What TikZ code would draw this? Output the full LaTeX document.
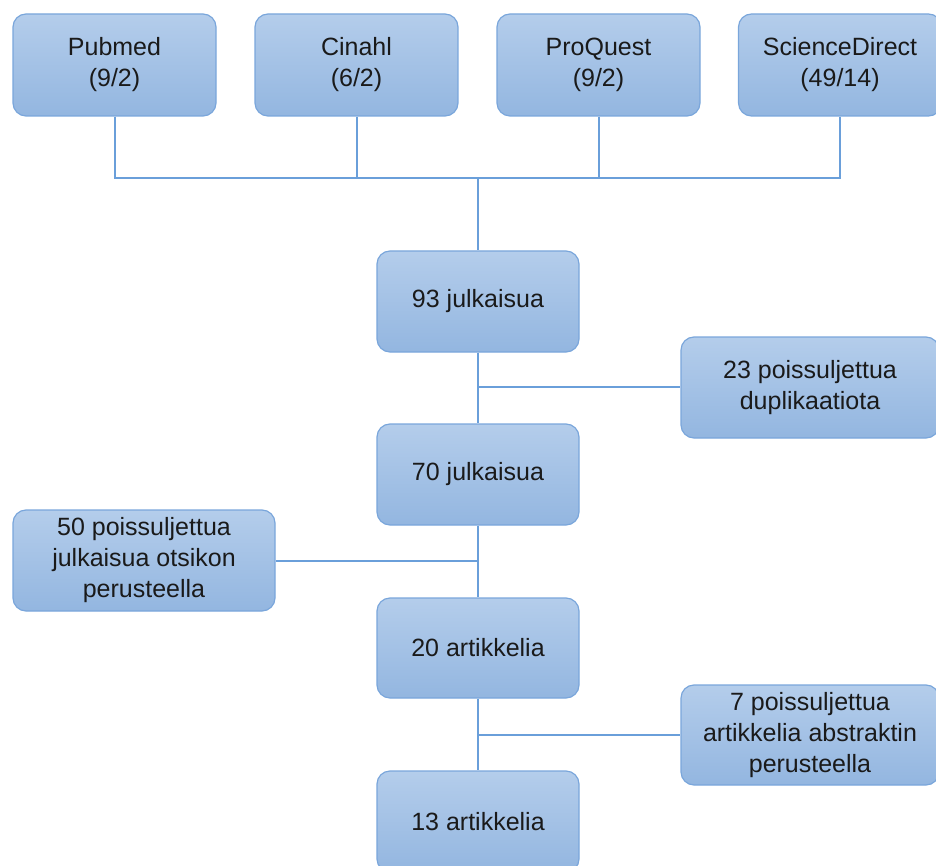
\documentclass[tikz,border=0pt]{standalone}
\usepackage{fontspec}
\setmainfont{Liberation Sans}
\definecolor{boxtop}{HTML}{B4CDEB}
\definecolor{boxbot}{HTML}{93B6E0}
\definecolor{boxline}{HTML}{7AA6DB}
\definecolor{conn}{HTML}{6A9FDA}
\definecolor{txt}{HTML}{1A1A1A}
\begin{document}
\begin{tikzpicture}[x=1pt,y=-1pt,
  box/.style={draw=boxline,line width=1.2pt,rounded corners=13pt,
    top color=boxtop,bottom color=boxbot,align=center,text=txt,
    font=\fontsize{25}{31}\selectfont,inner sep=0pt},
  link/.style={draw=conn,line width=2pt}]
\useasboundingbox (0,0) rectangle (936,866);
\coordinate (bus) at (478,178);
\coordinate (j1) at (478,387);
\coordinate (j2) at (478,561);
\coordinate (j3) at (478,735);
\begin{scope}
\clip (0,0) rectangle (936,866);
\node[box,minimum width=203pt,minimum height=102pt] (pub) at (114.5,65) {Pubmed\\(9/2)};
\node[box,minimum width=203pt,minimum height=102pt] (cin) at (356.5,65) {Cinahl\\(6/2)};
\node[box,minimum width=203pt,minimum height=102pt] (pro) at (598.5,65) {ProQuest\\(9/2)};
\node[box,minimum width=203pt,minimum height=102pt] (sci) at (840,65) {ScienceDirect\\(49/14)};
\node[box,minimum width=202pt,minimum height=101pt] (n93) at (478,301.5) {93 julkaisua};
\node[box,minimum width=258pt,minimum height=101pt] (dup) at (810,387.5) {23 poissuljettua\\duplikaatiota};
\node[box,minimum width=202pt,minimum height=101pt] (n70) at (478,474.5) {70 julkaisua};
\node[box,minimum width=262pt,minimum height=101pt] (tit) at (144,560.5) {50 poissuljettua\\julkaisua otsikon\\perusteella};
\node[box,minimum width=202pt,minimum height=100pt] (n20) at (478,648) {20 artikkelia};
\node[box,minimum width=258pt,minimum height=100pt] (abs) at (810,735) {7 poissuljettua\\artikkelia abstraktin\\perusteella};
\node[box,minimum width=202pt,minimum height=101pt] (n13) at (478,821.5) {13 artikkelia};
\end{scope}
\draw[link] (pub.south) |- (bus);
\draw[link] (cin.south) -- (cin.south |- bus);
\draw[link] (pro.south) -- (pro.south |- bus);
\draw[link] (sci.south) |- (bus);
\draw[link] (bus) -- (n93.north);
\draw[link] (n93.south) -- (n70.north);
\draw[link] (j1) -- (j1 -| dup.west);
\draw[link] (n70.south) -- (n20.north);
\draw[link] (tit.east |- j2) -- (j2);
\draw[link] (n20.south) -- (n13.north);
\draw[link] (j3) -- (j3 -| abs.west);
\end{tikzpicture}
\end{document}
